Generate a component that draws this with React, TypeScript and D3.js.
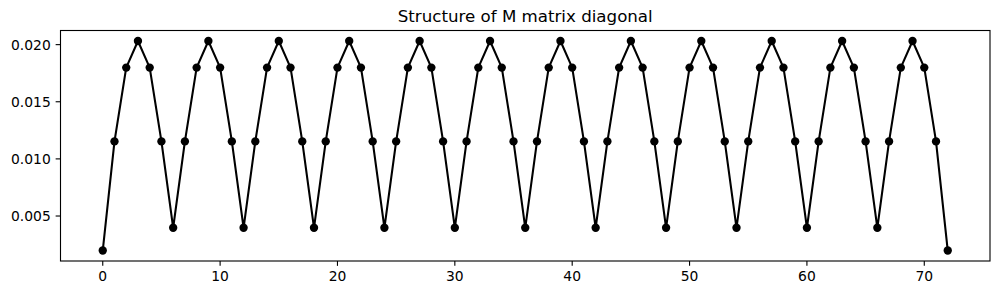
import React from "react";
import * as d3 from "d3";

const title = "Structure of M matrix diagonal";

// One element's pattern (shared nodes doubled)
const diagonal: number[] = [
  0.00198, 0.01153, 0.01799, 0.02032, 0.01799, 0.01153,
  0.00397, 0.01153, 0.01799, 0.02032, 0.01799, 0.01153,
  0.00397, 0.01153, 0.01799, 0.02032, 0.01799, 0.01153,
  0.00397, 0.01153, 0.01799, 0.02032, 0.01799, 0.01153,
  0.00397, 0.01153, 0.01799, 0.02032, 0.01799, 0.01153,
  0.00397, 0.01153, 0.01799, 0.02032, 0.01799, 0.01153,
  0.00397, 0.01153, 0.01799, 0.02032, 0.01799, 0.01153,
  0.00397, 0.01153, 0.01799, 0.02032, 0.01799, 0.01153,
  0.00397, 0.01153, 0.01799, 0.02032, 0.01799, 0.01153,
  0.00397, 0.01153, 0.01799, 0.02032, 0.01799, 0.01153,
  0.00397, 0.01153, 0.01799, 0.02032, 0.01799, 0.01153,
  0.00397, 0.01153, 0.01799, 0.02032, 0.01799, 0.01153,
  0.00198,
];

const xTicks: number[] = [0, 10, 20, 30, 40, 50, 60, 70];
const yTicks: number[] = [0.005, 0.01, 0.015, 0.02];

const W = 999;
const H = 295;
const left = 60.5;
const right = 990;
const top = 30.5;
const bottom = 261;
const font = "DejaVu Sans, sans-serif";

export default function App() {
  const n = diagonal.length;
  const xMin = 0, xMax = n - 1;
  const xPad = (xMax - xMin) * 0.05;
  const yMin = d3.min(diagonal)!;
  const yMax = d3.max(diagonal)!;
  const yPad = (yMax - yMin) * 0.05;
  const x = d3.scaleLinear().domain([xMin - xPad, xMax + xPad]).range([left, right]);
  const y = d3.scaleLinear().domain([yMin - yPad, yMax + yPad]).range([bottom, top]);
  const line = d3
    .line<number>()
    .x((_, i) => x(i))
    .y((d) => y(d));

  return (
    <svg
      width={W}
      height={H}
      style={{ position: "absolute", left: 0, top: 0, background: "#fff" }}
      xmlns="http://www.w3.org/2000/svg"
    >
      <rect x={0} y={0} width={W} height={H} fill="#fff" />
      <text
        x={(left + right) / 2}
        y={22}
        textAnchor="middle"
        fontFamily={font}
        fontSize={16.67}
        fill="#000"
      >
        {title}
      </text>
      <path d={line(diagonal) || ""} fill="none" stroke="#000" strokeWidth={2.08} strokeLinejoin="round" />
      {diagonal.map((d, i) => (
        <circle key={i} cx={x(i)} cy={y(d)} r={4.17} fill="#000" />
      ))}
      {xTicks.map((t) => (
        <g key={"x" + t}>
          <line x1={x(t)} x2={x(t)} y1={bottom} y2={bottom + 4.86} stroke="#000" strokeWidth={1.11} />
          <text
            x={x(t)}
            y={bottom + 4.86 + 4.86 + 10.1}
            textAnchor="middle"
            fontFamily={font}
            fontSize={13.89}
            fill="#000"
          >
            {t}
          </text>
        </g>
      ))}
      {yTicks.map((t) => (
        <g key={"y" + t}>
          <line x1={left - 4.86} x2={left} y1={y(t)} y2={y(t)} stroke="#000" strokeWidth={1.11} />
          <text
            x={left - 4.86 - 4.86}
            y={y(t)}
            dy="0.36em"
            textAnchor="end"
            fontFamily={font}
            fontSize={13.89}
            fill="#000"
          >
            {d3.format(".3f")(t)}
          </text>
        </g>
      ))}
      <rect
        x={left}
        y={top}
        width={right - left}
        height={bottom - top}
        fill="none"
        stroke="#000"
        strokeWidth={1.11}
      />
    </svg>
  );
}
